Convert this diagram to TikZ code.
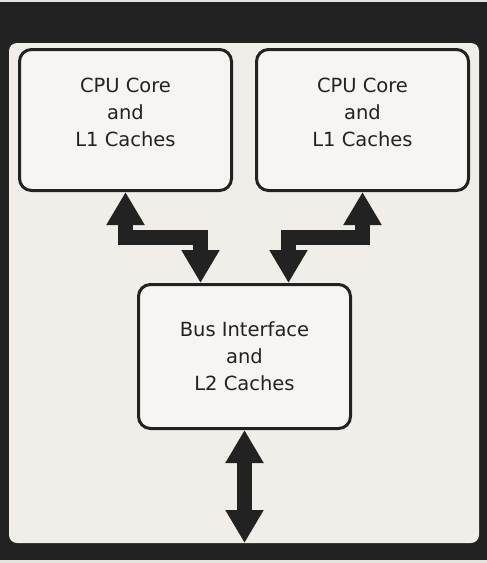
\documentclass[tikz,border=0pt]{standalone}
\usepackage{fontspec}
\setmainfont{DejaVu Sans}
\usetikzlibrary{arrows.meta}
\definecolor{ink}{HTML}{222222}
\definecolor{paper}{HTML}{F1EEE9}
\definecolor{boxfill}{HTML}{F7F5F1}
\definecolor{edge}{HTML}{E6E3DE}
\tikzset{
  unitbox/.style={draw=ink, line width=3pt, rounded corners=12pt, fill=boxfill,
    minimum width=212pt, minimum height=141pt, align=center, inner sep=0pt,
    font=\fontsize{19.5pt}{27pt}\selectfont, text=ink},
  bigarrow/.style={draw=ink, line width=15pt, line join=miter,
    {Triangle[length=33pt,width=36pt]}-{Triangle[length=33pt,width=36pt]}}
}
\begin{document}
\begin{tikzpicture}[x=1pt,y=-1pt]
  \useasboundingbox (0,0) rectangle (487,563);
  \fill[edge] (0,0) rectangle (487,563);
  \fill[ink] (0,2) rectangle (487,560);
  \fill[paper, rounded corners=8pt] (9,43) rectangle (479,543);

  \node[unitbox, text depth=15pt] (box1) at (125.5,120) {CPU Core\\and\\L1 Caches};
  \node[unitbox, text depth=15pt] (box2) at (362.5,120) {CPU Core\\and\\L1 Caches};
  \node[unitbox, minimum height=144pt] (box3) at (244.5,356.5) {Bus Interface\\and\\L2 Caches};

  \coordinate (t1) at ([xshift=-44pt]box3.north);
  \coordinate (t2) at ([xshift=44pt]box3.north);
  \coordinate (bot) at (box3.south |- 0,543);

  \draw[bigarrow] (box1.south) -- (box1.south |- 0,237.5) -| (t1);
  \draw[bigarrow] (box2.south) -- (box2.south |- 0,237.5) -| (t2);
  \draw[bigarrow] (box3.south) -- (bot);
\end{tikzpicture}
\end{document}
